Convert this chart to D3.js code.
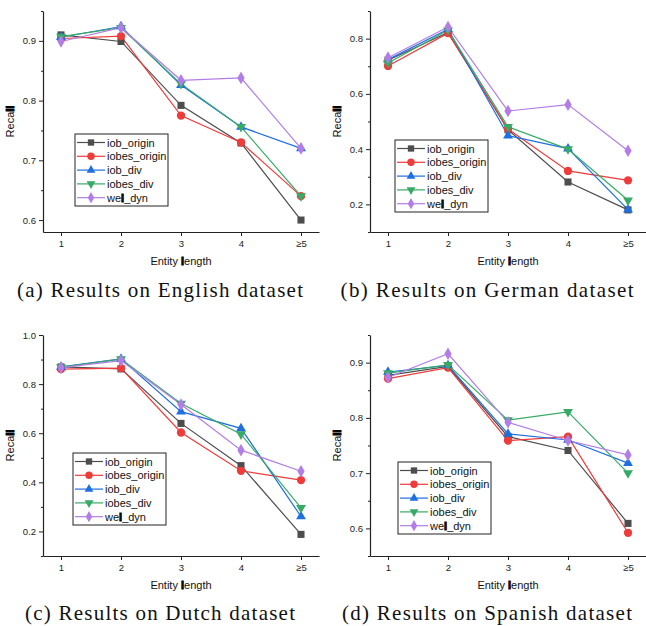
<!DOCTYPE html>
<html>
<head>
<meta charset="utf-8">
<script src="https://cdn.jsdelivr.net/npm/d3@7"></script>
<style>
  body { margin: 0; background: #fff; }
  svg { display: block; }
</style>
</head>
<body>
<svg id="chart" width="646" height="626"></svg>
<script>
// Categories on the x axis (entity length)
const categories = ["1", "2", "3", "4", "≥5"];
const seriesNames = ["iob_origin", "iobes_origin", "iob_div", "iobes_div", "wel_dyn"];
const seriesColors = ["#4d4d4d", "#f03b3b", "#1f6fe0", "#36aa66", "#b27ee6"];
const seriesShapes = ["square", "circle", "triangleUp", "triangleDown", "diamond"];

// Recall per series, one row per series (same order as seriesNames)
const english = [
  [0.910, 0.899, 0.792, 0.729, 0.600],
  [0.904, 0.908, 0.775, 0.730, 0.640],
  [0.906, 0.924, 0.826, 0.756, 0.720],
  [0.907, 0.922, 0.828, 0.756, 0.640],
  [0.899, 0.922, 0.834, 0.838, 0.720]
];
const german = [
  [0.722, 0.822, 0.470, 0.281, 0.180],
  [0.701, 0.820, 0.473, 0.321, 0.287],
  [0.724, 0.834, 0.449, 0.402, 0.181],
  [0.712, 0.830, 0.481, 0.400, 0.215],
  [0.731, 0.842, 0.538, 0.561, 0.394]
];
const dutch = [
  [0.870, 0.862, 0.640, 0.468, 0.188],
  [0.861, 0.865, 0.603, 0.447, 0.409],
  [0.870, 0.903, 0.688, 0.620, 0.261],
  [0.869, 0.902, 0.721, 0.596, 0.296],
  [0.867, 0.896, 0.717, 0.531, 0.445]
];
const spanish = [
  [0.877, 0.893, 0.766, 0.741, 0.609],
  [0.871, 0.891, 0.759, 0.766, 0.592],
  [0.883, 0.895, 0.771, 0.760, 0.718],
  [0.881, 0.896, 0.796, 0.811, 0.700],
  [0.873, 0.916, 0.792, 0.759, 0.733]
];

const yTicksEnglish = [0.6, 0.7, 0.8, 0.9];
const yTicksGerman = [0.2, 0.4, 0.6, 0.8];
const yTicksDutch = [0.2, 0.4, 0.6, 0.8, 1.0];
const yTicksSpanish = [0.6, 0.7, 0.8, 0.9];

const captions = [
  "(a) Results on English dataset",
  "(b) Results on German dataset",
  "(c) Results on Dutch dataset",
  "(d) Results on Spanish dataset"
];

const panels = [
  {data: english, ticks: yTicksEnglish, domain: [0.58, 0.95], minor: 0.05, ox: 0, oy: 0, legend: [75, 134], capW: 286, capY: 297},
  {data: german, ticks: yTicksGerman, domain: [0.1, 0.9], minor: 0.1, ox: 327, oy: 0, legend: [68, 140], capW: 293, capY: 297},
  {data: dutch, ticks: yTicksDutch, domain: [0.1, 1.0], minor: 0.1, ox: 0, oy: 324, legend: [73, 129], capW: 270, capY: 296},
  {data: spanish, ticks: yTicksSpanish, domain: [0.55, 0.95], minor: 0.05, ox: 327, oy: 324, legend: [71, 138], capW: 290, capY: 296}
];

// Plot frame inside a panel
const frame = {left: 43, right: 319, top: 11, bottom: 232};
const sansFont = "'Liberation Sans', Arial, sans-serif";

const svg = d3.select("#chart");

// Draw a label where each "l" is rendered heavy, as in the original figure
function heavyL(textSel, str) {
  str.split(/(l)/).filter(s => s.length).forEach(part => {
    const t = textSel.append("tspan").text(part);
    if (part === "l") t.attr("font-weight", "bold").attr("stroke", "#000").attr("stroke-width", 0.9);
  });
}

function marker(g, shape, color, size) {
  const symbolType = {
    square: d3.symbolSquare,
    circle: d3.symbolCircle,
    triangleUp: d3.symbolTriangle,
    triangleDown: d3.symbolTriangle,
    diamond: d3.symbolDiamond
  }[shape];
  const area = {square: 50, circle: 54, triangleUp: 42, triangleDown: 42, diamond: 46}[shape] * size;
  const p = g.append("path")
    .attr("d", d3.symbol().type(symbolType).size(area)())
    .attr("fill", color);
  if (shape === "triangleDown") p.attr("transform", "rotate(180)");
  return p;
}

const x = d3.scaleLinear()
  .domain([0.7, 5.3])
  .range([frame.left, frame.right]);

panels.forEach((pn, pi) => {
  const g = svg.append("g").attr("transform", `translate(${pn.ox},${pn.oy})`);

  const y = d3.scaleLinear()
    .domain(pn.domain)
    .range([frame.bottom, frame.top]);

  // Minor ticks on y
  const minors = d3.range(Math.ceil(pn.domain[0] / pn.minor - 1e-6), Math.floor(pn.domain[1] / pn.minor + 1e-6) + 1)
    .map(k => +(k * pn.minor).toFixed(3))
    .filter(v => !pn.ticks.some(t => Math.abs(t - v) < 1e-6));

  g.append("g")
    .attr("transform", `translate(${frame.left},0)`)
    .call(d3.axisLeft(y).tickValues(minors).tickSize(2).tickFormat(""))
    .call(a => a.select(".domain").remove())
    .selectAll("line").attr("stroke", "#222");

  const yAxis = g.append("g")
    .attr("transform", `translate(${frame.left},0)`)
    .call(d3.axisLeft(y).tickValues(pn.ticks).tickSize(4).tickSizeOuter(0).tickPadding(3).tickFormat(d3.format(".1f")));
  yAxis.select(".domain").attr("stroke", "#222").attr("stroke-width", 1.2);
  yAxis.selectAll("line").attr("stroke", "#222");
  yAxis.selectAll("text").attr("font-family", sansFont).attr("font-size", 9.5).attr("fill", "#222");

  const xAxis = g.append("g")
    .attr("transform", `translate(0,${frame.bottom})`)
    .call(d3.axisBottom(x).tickValues(d3.range(1, 6)).tickSize(4).tickSizeOuter(0).tickPadding(4)
      .tickFormat((d, i) => categories[i]));
  xAxis.select(".domain").attr("stroke", "#222").attr("stroke-width", 1.2);
  xAxis.selectAll("line").attr("stroke", "#222");
  xAxis.selectAll("text").attr("font-family", sansFont).attr("font-size", 9.5).attr("fill", "#222");

  // Axis titles
  const yl = g.append("text")
    .attr("transform", `translate(${frame.left - 29},${(frame.top + frame.bottom) / 2}) rotate(-90)`)
    .attr("text-anchor", "middle")
    .attr("font-family", sansFont)
    .attr("font-size", 11)
    .attr("fill", "#111");
  heavyL(yl, "Recall");

  const xl = g.append("text")
    .attr("x", x(3))
    .attr("y", frame.bottom + 33)
    .attr("text-anchor", "middle")
    .attr("font-family", sansFont)
    .attr("font-size", 11)
    .attr("fill", "#111");
  heavyL(xl, "Entity length");

  // Series lines and markers
  const line = d3.line()
    .x((d, i) => x(i + 1))
    .y(d => y(d));

  pn.data.forEach((vals, si) => {
    g.append("path")
      .attr("d", line(vals))
      .attr("fill", "none")
      .attr("stroke", seriesColors[si])
      .attr("stroke-width", 1.2);
  });
  pn.data.forEach((vals, si) => {
    vals.forEach((v, i) => {
      const mg = g.append("g").attr("transform", `translate(${x(i + 1)},${y(v)})`);
      marker(mg, seriesShapes[si], seriesColors[si], 1);
    });
  });

  // Legend
  const [lx, ly] = pn.legend;
  const lg = g.append("g").attr("transform", `translate(${lx},${ly})`);
  lg.append("rect")
    .attr("width", 93).attr("height", 72)
    .attr("fill", "#fff")
    .attr("stroke", "#222")
    .attr("stroke-width", 1);
  seriesNames.forEach((name, si) => {
    const cy = 8.5 + si * 13.8;
    lg.append("line")
      .attr("x1", 2).attr("x2", 30)
      .attr("y1", cy).attr("y2", cy)
      .attr("stroke", seriesColors[si])
      .attr("stroke-width", 1.2);
    const mg = lg.append("g").attr("transform", `translate(16,${cy})`);
    marker(mg, seriesShapes[si], seriesColors[si], 0.8);
    const t = lg.append("text")
      .attr("x", 32).attr("y", cy + 4)
      .attr("font-family", sansFont)
      .attr("font-size", 11)
      .attr("fill", "#111");
    heavyL(t, name);
  });

  // Caption under the panel
  g.append("text")
    .attr("x", 160)
    .attr("y", pn.capY)
    .attr("text-anchor", "middle")
    .attr("font-family", "'Liberation Serif', 'Times New Roman', serif")
    .attr("font-size", 21)
    .attr("textLength", pn.capW)
    .attr("lengthAdjust", "spacing")
    .attr("fill", "#111")
    .text(captions[pi]);
});
</script>
</body>
</html>
